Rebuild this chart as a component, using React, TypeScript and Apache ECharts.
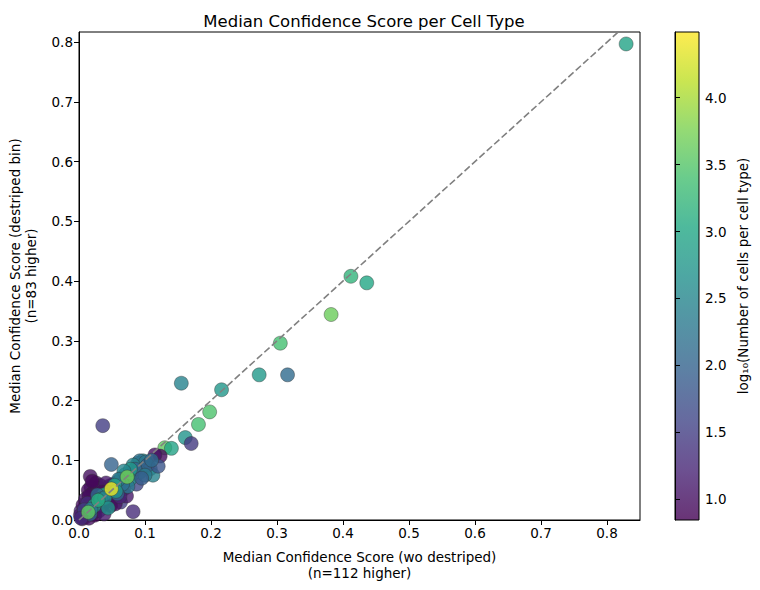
import React, { useEffect, useRef } from "react";
import * as echarts from "echarts";

// Median confidence per cell type: x = without destriping, y = destriped bin,
// colour = log10(number of cells in that cell type). Later entries draw on top.
const xScores: number[] = [
  0.829, 0.412, 0.436, 0.382, 0.305, 0.273, 0.316, 0.155, 0.216, 0.198,
  0.181, 0.161, 0.170, 0.130, 0.140, 0.036, 0.049,
  0.017, 0.018, 0.014, 0.021, 0.029, 0.024, 0.032,
  0.026, 0.020, 0.012, 0.008, 0.004, 0.003, 0.006, 0.010, 0.015, 0.022,
  0.030, 0.035, 0.040, 0.045, 0.050, 0.052, 0.046, 0.060, 0.068,
  0.010, 0.005, 0.002, 0.015, 0.024, 0.038, 0.013, 0.025,
  0.042, 0.032, 0.026, 0.020, 0.063, 0.072, 0.048, 0.087, 0.017,
  0.008, 0.003, 0.041, 0.036, 0.055, 0.082, 0.062, 0.059,
  0.123, 0.115, 0.097, 0.089, 0.092, 0.101, 0.100, 0.108, 0.112, 0.092,
  0.082, 0.082, 0.104, 0.085, 0.070, 0.064, 0.077, 0.074,
  0.066, 0.058, 0.100, 0.095, 0.120, 0.110, 0.078, 0.068, 0.060, 0.054,
  0.044, 0.037, 0.023, 0.028, 0.033, 0.018, 0.039, 0.044, 0.056,
  0.073, 0.049, 0.029, 0.014,
];

const yScores: number[] = [
  0.797, 0.408, 0.397, 0.344, 0.296, 0.243, 0.243, 0.229, 0.218, 0.181,
  0.160, 0.138, 0.128, 0.121, 0.120, 0.158, 0.093,
  0.073, 0.055, 0.050, 0.045, 0.054, 0.040, 0.028,
  0.020, 0.030, 0.022, 0.010, 0.005, 0.015, 0.025, 0.035, 0.040, 0.012,
  0.015, 0.024, 0.030, 0.040, 0.035, 0.060, 0.057, 0.055, 0.052,
  0.005, 0.002, 0.008, 0.003, 0.008, 0.010, 0.028, 0.027,
  0.048, 0.058, 0.062, 0.065, 0.030, 0.040, 0.024, 0.060, 0.010,
  0.017, 0.003, 0.062, 0.047, 0.027, 0.014, 0.039, 0.064,
  0.107, 0.109, 0.099, 0.095, 0.099, 0.097, 0.087, 0.086, 0.075, 0.080,
  0.092, 0.078, 0.092, 0.085, 0.076, 0.070, 0.068, 0.056,
  0.060, 0.044, 0.075, 0.070, 0.090, 0.100, 0.085, 0.082, 0.068, 0.058,
  0.046, 0.042, 0.024, 0.042, 0.035, 0.018, 0.037, 0.020, 0.048,
  0.072, 0.052, 0.033, 0.013,
];

const logCellCounts: number[] = [
  2.95, 3.2, 3.0, 3.65, 3.4, 2.8, 2.1, 2.45, 2.75, 3.45,
  3.4, 2.7, 1.45, 3.6, 2.95, 1.5, 2.0,
  1.0, 1.1, 0.95, 0.9, 1.0, 1.0, 1.1,
  1.0, 0.9, 1.0, 1.0, 0.9, 1.2, 1.0, 1.1, 0.95, 1.3,
  1.6, 1.4, 1.2, 1.0, 1.5, 1.8, 1.0, 1.7, 1.3,
  1.9, 1.0, 1.1, 1.0, 0.9, 1.1, 1.3, 1.2,
  1.4, 0.95, 1.0, 0.9, 1.5, 1.1, 0.9, 1.6, 2.0,
  1.5, 1.3, 1.1, 0.95, 1.0, 1.3, 1.2, 1.0,
  0.95, 1.0, 2.6, 2.4, 2.2, 2.3, 2.6, 2.4, 2.45, 2.7,
  2.5, 2.2, 1.9, 2.0, 2.9, 2.8, 2.6, 2.3,
  2.2, 2.0, 2.3, 1.9, 1.8, 2.1, 2.8, 2.5, 2.3, 2.9,
  2.2, 3.0, 2.8, 2.1, 2.6, 2.3, 2.5, 2.7, 2.7,
  3.7, 4.4, 3.1, 3.6,
];

const axisTicks: number[] = [0, 0.1, 0.2, 0.3, 0.4, 0.5, 0.6, 0.7, 0.8];
const colorbarTicks: number[] = [1.0, 1.5, 2.0, 2.5, 3.0, 3.5, 4.0];
const diagonal: number[][] = [[0, 0], [0.9, 0.9]];

const X_MAX = 0.85;
const Y_MAX = 0.817;
const C_MIN = 0.846;
const C_MAX = 4.49;

const viridis = [
  "#440154", "#482475", "#414487", "#355f8d", "#2a788e", "#21918c",
  "#22a884", "#44bf70", "#7ad151", "#bddf26", "#fde725",
];

const FONT = "DejaVu Sans";
const FS = 13.5;

export default function App() {
  const ref = useRef<HTMLDivElement>(null);

  useEffect(() => {
    if (!ref.current) return;
    const chart = echarts.init(ref.current, undefined, { renderer: "svg" });

    const points = xScores.map((x, i) => [x, yScores[i], logCellCounts[i]]);

    const gradientStops = viridis.map((c, i) => ({
      offset: i / (viridis.length - 1),
      color: c,
    }));

    const tickLabel = {
      formatter: (v: number) => v.toFixed(1),
      color: "#000",
      fontSize: FS,
      fontFamily: FONT,
      margin: 6,
    };

    chart.setOption({
      animation: false,
      backgroundColor: "#ffffff",
      textStyle: { fontFamily: FONT },
      title: {
        text: "Median Confidence Score per Cell Type",
        left: 359,
        top: 8,
        textAlign: "center",
        textStyle: { fontFamily: FONT, fontSize: 16.5, fontWeight: "normal", color: "#000" },
      },
      grid: [
        {
          left: 79, top: 32, right: 120, bottom: 70,
          outerBoundsMode: "none",
          containLabel: false,
          show: true, borderColor: "#000", borderWidth: 1,
          backgroundColor: "transparent",
        },
        {
          left: 675, top: 32, width: 24, bottom: 70,
          outerBoundsMode: "none",
          containLabel: false,
          show: true, borderColor: "#000", borderWidth: 1,
          backgroundColor: "transparent",
        },
      ],
      xAxis: [
        {
          gridIndex: 0,
          type: "value",
          min: 0,
          max: X_MAX,
          splitLine: { show: false },
          axisLine: { lineStyle: { color: "#000", width: 1 } },
          axisTick: { show: true, length: 5, lineStyle: { color: "#000" }, customValues: axisTicks },
          axisLabel: { ...tickLabel, customValues: axisTicks },
          name: "Median Confidence Score (wo destriped)\n(n=112 higher)",
          nameLocation: "middle",
          nameGap: 29,
          nameTextStyle: { color: "#000", fontSize: FS, fontFamily: FONT, lineHeight: 16 },
        },
        { gridIndex: 1, type: "value", show: false, min: 0, max: 1 },
      ],
      yAxis: [
        {
          gridIndex: 0,
          type: "value",
          min: 0,
          max: Y_MAX,
          splitLine: { show: false },
          axisLine: { show: true, lineStyle: { color: "#000", width: 1 } },
          axisTick: { show: true, length: 5, lineStyle: { color: "#000" }, customValues: axisTicks },
          axisLabel: { ...tickLabel, customValues: axisTicks },
          name: "Median Confidence Score (destriped bin)\n(n=83 higher)",
          nameLocation: "middle",
          nameGap: 40,
          nameTextStyle: { color: "#000", fontSize: FS, fontFamily: FONT, lineHeight: 16 },
        },
        {
          gridIndex: 1,
          type: "value",
          position: "right",
          min: C_MIN,
          max: C_MAX,
          splitLine: { show: false },
          axisLine: { show: true, lineStyle: { color: "#000", width: 1 } },
          axisTick: { show: true, length: 5, lineStyle: { color: "#000" }, customValues: colorbarTicks },
          axisLabel: { ...tickLabel, customValues: colorbarTicks },
          name: "log₁₀(Number of cells per cell type)",
          nameLocation: "middle",
          nameGap: 37,
          nameRotate: 90,
          nameTextStyle: { color: "#000", fontSize: FS, fontFamily: FONT },
        },
      ],
      visualMap: {
        show: false,
        type: "continuous",
        seriesIndex: 0,
        dimension: 2,
        min: C_MIN,
        max: C_MAX,
        inRange: { color: viridis },
      },
      graphic: [
        {
          type: "rect",
          z: -1,
          shape: { x: 675, y: 32, width: 24, height: 488 },
          style: {
            opacity: 0.8,
            fill: new echarts.graphic.LinearGradient(0, 1, 0, 0, gradientStops),
          },
        },
      ],
      series: [
        {
          type: "scatter",
          xAxisIndex: 0,
          yAxisIndex: 0,
          data: points,
          symbolSize: 14,
          itemStyle: { opacity: 0.8, borderColor: "#333", borderWidth: 0.5 },
          z: 2,
        },
        {
          type: "line",
          xAxisIndex: 0,
          yAxisIndex: 0,
          data: diagonal,
          symbol: "none",
          clip: true,
          lineStyle: { color: "#808080", width: 1.6, type: [7, 3] },
          z: 3,
          silent: true,
        },
      ],
    });

    return () => chart.dispose();
  }, []);

  return (
    <div
      ref={ref}
      style={{ position: "fixed", left: 0, top: 0, width: 760, height: 590 }}
    />
  );
}
